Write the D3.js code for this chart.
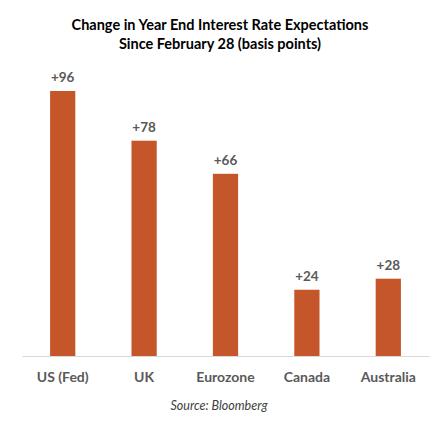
<!DOCTYPE html>
<html>
<head>
<meta charset="utf-8">
<script src="https://cdn.jsdelivr.net/npm/d3@7"></script>
<style>
  body { margin: 0; background: #fff; }
  text { font-family: Lato, "Open Sans", sans-serif; }
</style>
</head>
<body>
<div id="chart"></div>
<script>
// chart data
const categories = ['US (Fed)', 'UK', 'Eurozone', 'Canada', 'Australia'];
const values = [96, 78, 66, 24, 28];
const titleLines = ['Change in Year End Interest Rate Expectations', 'Since February 28 (basis points)'];
const sourceNote = 'Source: Bloomberg';

const width = 444, height = 431;
const margin = { top: 91, right: 15, bottom: 75, left: 22 };
const baseline = 356;

const svg = d3.select('#chart').append('svg')
  .attr('width', width)
  .attr('height', height);

const x = d3.scaleBand()
  .domain(categories)
  .range([margin.left, 429])
  .paddingInner(0.69)
  .paddingOuter(0.345);

const y = d3.scaleLinear()
  .domain([0, 96])
  .range([baseline, margin.top]);

// title
svg.append('g').selectAll('text')
  .data(titleLines)
  .enter().append('text')
  .attr('x', 220)
  .attr('y', (d, i) => 30 + i * 19)
  .attr('text-anchor', 'middle')
  .attr('font-size', 14.5)
  .attr('font-weight', 'bold')
  .attr('fill', '#000')
  .text(d => d);

// bars
svg.append('g').selectAll('rect')
  .data(values)
  .enter().append('rect')
  .attr('x', (d, i) => x(categories[i]))
  .attr('y', d => y(d))
  .attr('width', x.bandwidth())
  .attr('height', d => baseline - y(d))
  .attr('fill', '#C4562A');

// value labels
svg.append('g').selectAll('text')
  .data(values)
  .enter().append('text')
  .attr('x', (d, i) => x(categories[i]) + x.bandwidth() / 2)
  .attr('y', d => y(d) - 9)
  .attr('text-anchor', 'middle')
  .attr('font-size', 13.5)
  .attr('font-weight', 'bold')
  .attr('fill', '#595959')
  .text(d => '+' + d);

// x axis
const xAxis = d3.axisBottom(x).tickSize(0).tickPadding(16);
const gx = svg.append('g')
  .attr('transform', 'translate(0,' + baseline + ')')
  .call(xAxis);
gx.select('.domain').attr('stroke', '#d9d9d9').attr('stroke-width', 1);
gx.selectAll('text')
  .attr('font-size', 14)
  .attr('font-weight', 'bold')
  .attr('fill', '#595959')
  .style('font-family', 'Lato, sans-serif');

// source
svg.append('text')
  .attr('x', 219)
  .attr('y', 410)
  .attr('text-anchor', 'middle')
  .attr('font-size', 12.5)
  .attr('font-style', 'italic')
  .attr('fill', '#404040')
  .text(sourceNote);
</script>
</body>
</html>
